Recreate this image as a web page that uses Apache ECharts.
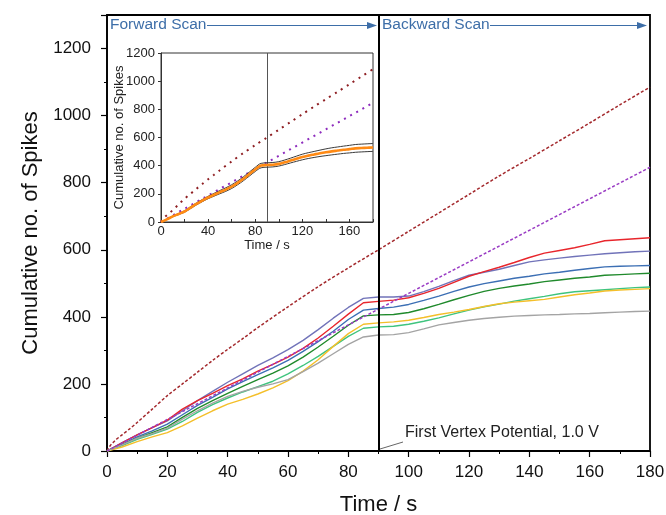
<!DOCTYPE html>
<html>
<head>
<meta charset="utf-8">
<script src="https://cdn.jsdelivr.net/npm/echarts@6/dist/echarts.min.js"></script>
<style>
  html, body { margin: 0; padding: 0; background: #fff; }
  #chart { width: 666px; height: 515px; }
</style>
</head>
<body>
<div id="chart"></div>
<script>
// Time grid (s) shared by the seven recorded electrodes
const time = [0,5,10,15,20,25,30,35,40,45,50,55,60,65,70,75,80,85,90,
              95,100,105,110,115,120,125,130,135,140,145,150,155,160,165,170,175,180];

// Cumulative spike counts, forward scan (0-90 s) then backward scan (95-180 s)
const slate  = [0,25,48,70,90,120,150,178,205,230,255,278,302,330,362,396,428,455,459,
                459,462,475,491,508,524,533,542,553,564,570,575,580,584,588,591,594,596];
const red    = [0,24,48,70,92,125,150,172,195,215,238,258,280,306,337,372,408,442,446,
                450,457,470,485,503,521,535,548,562,577,590,598,606,616,627,630,633,636];
const blue   = [0,20,42,60,80,108,136,160,185,207,228,248,270,297,326,357,392,420,425,
                429,437,449,462,476,489,499,507,515,521,528,533,539,544,549,551,552,553];
const green  = [0,18,38,55,72,100,127,150,172,193,213,232,254,280,310,342,375,403,406,
                407,413,424,437,451,464,476,485,492,498,505,510,515,519,524,526,528,530];
const ltgreen= [0,16,35,50,65,88,115,138,158,176,192,208,230,255,282,312,342,366,370,
                372,378,387,397,409,420,430,438,447,454,461,469,475,478,481,484,487,489];
const gray   = [0,18,38,52,68,95,120,143,163,178,190,200,213,237,262,290,318,340,346,
                347,353,364,376,383,390,395,399,402,404,406,407,409,410,412,414,416,417];
const yellow = [0,12,28,42,55,75,98,120,140,154,170,188,210,238,272,312,350,378,382,
                385,390,398,407,414,422,431,439,444,448,452,459,466,471,477,480,482,484];

// Reference curves (dashed in the main plot, dotted in the inset)
const brownT = [0,1,2,3,5,7.5,10,15,20,25,30,35,40,45,50,60,70,80,90,100,110,120,130,140,150,160,170,180];
const brownV = [0,15,25,34,48,66,85,125,165,200,235,270,303,335,368,430,490,546,600,655,710,765,820,872,925,978,1032,1085];
const purpleT = [0,10,20,30,40,50,60,70,80,90,100,110,120,130,140,150,160,170,180];
const purpleV = [0,47,94,141,188,235,282,329,376,423,470,517,564,611,658,705,752,799,846];

const electrodes = [
  { name: 'E1', data: slate,   color: '#7173b9' },
  { name: 'E2', data: red,     color: '#e8262c' },
  { name: 'E3', data: blue,    color: '#3c6fb4' },
  { name: 'E4', data: green,   color: '#208a2c' },
  { name: 'E5', data: ltgreen, color: '#3fc47e' },
  { name: 'E6', data: yellow,  color: '#f4bf2a' },
  { name: 'E7', data: gray,    color: '#a4a4a4' }
];

const pairs = (xs, ys) => xs.map((x, i) => [x, ys[i]]);

// Mean and standard error across electrodes for the inset
const n = electrodes.length;
const mean = time.map((_, i) => electrodes.reduce((s, e) => s + e.data[i], 0) / n);
const sem = time.map((_, i) => {
  const m = mean[i];
  const v = electrodes.reduce((s, e) => s + (e.data[i] - m) ** 2, 0) / (n - 1);
  return Math.sqrt(v / n);
});
const upper = mean.map((m, i) => m + sem[i]);
const lower = mean.map((m, i) => m - sem[i]);

const FONT = 'Liberation Sans, Arial, sans-serif';
const chart = echarts.init(document.getElementById('chart'), null, { renderer: 'canvas' });

const mainSeries = electrodes.map(e => ({
  name: e.name, type: 'line', xAxisIndex: 0, yAxisIndex: 0,
  data: pairs(time, e.data), showSymbol: false, symbol: 'none',
  lineStyle: { color: e.color, width: 1.4 }, silent: true, z: 3
}));

mainSeries.push({
  name: 'ref1', type: 'line', xAxisIndex: 0, yAxisIndex: 0,
  data: pairs(brownT, brownV), symbol: 'none', smooth: 0.3,
  lineStyle: { color: '#a3282c', width: 1.5, type: [3, 2] }, silent: true, z: 2,
  markLine: {
    silent: true, symbol: 'none', label: { show: false },
    lineStyle: { color: '#000', width: 2, type: 'solid' },
    data: [{ xAxis: 90 }]
  }
});
mainSeries.push({
  name: 'ref2', type: 'line', xAxisIndex: 0, yAxisIndex: 0,
  data: pairs(purpleT, purpleV), symbol: 'none',
  lineStyle: { color: '#9a3cc4', width: 1.5, type: [3, 2] }, silent: true, z: 4
});

const insetSeries = [
  {
    name: 'ref1-in', type: 'line', xAxisIndex: 1, yAxisIndex: 1,
    data: pairs(brownT, brownV), symbol: 'none', smooth: 0.3,
    lineStyle: { color: '#8e1e22', width: 2, type: [2, 5] }, silent: true, z: 6,
    markLine: {
      silent: true, symbol: 'none', label: { show: false },
      lineStyle: { color: '#555', width: 1, type: 'solid' },
      data: [{ xAxis: 90 }]
    }
  },
  {
    name: 'ref2-in', type: 'line', xAxisIndex: 1, yAxisIndex: 1,
    data: pairs(purpleT, purpleV), symbol: 'none',
    lineStyle: { color: '#8d2bbd', width: 2, type: [2, 5] }, silent: true, z: 6
  },
  {
    name: 'upper', type: 'line', xAxisIndex: 1, yAxisIndex: 1,
    data: pairs(time, upper), symbol: 'none', smooth: 0.4,
    lineStyle: { color: '#3a3a3a', width: 1 }, silent: true, z: 6
  },
  {
    name: 'lower', type: 'line', xAxisIndex: 1, yAxisIndex: 1,
    data: pairs(time, lower), symbol: 'none', smooth: 0.4,
    lineStyle: { color: '#3a3a3a', width: 1 }, silent: true, z: 6
  },
  {
    name: 'mean', type: 'line', xAxisIndex: 1, yAxisIndex: 1,
    data: pairs(time, mean), symbol: 'none', smooth: 0.4,
    lineStyle: { color: '#ff8a14', width: 2.6 }, silent: true, z: 7
  }
];

const blueText = '#3d6ea8';
const plain = v => String(v);

chart.setOption({
  animation: false,
  backgroundColor: '#fff',
  grid: [
    { left: 107, top: 15, width: 543, height: 436, outerBoundsMode: 'none', containLabel: false,
      show: true, borderColor: '#000', borderWidth: 1.8, backgroundColor: 'transparent' },
    { left: 161, top: 53, width: 212, height: 169, outerBoundsMode: 'none', containLabel: false,
      show: true, borderColor: '#333', borderWidth: 1, backgroundColor: '#fff', z: 5 }
  ],
  xAxis: [
    {
      gridIndex: 0, type: 'value', min: 0, max: 180, interval: 20,
      axisLine: { onZero: false, lineStyle: { color: '#000', width: 1.5 } },
      axisTick: { inside: false, length: 6, lineStyle: { color: '#000', width: 1.2 } },
      minorTick: { show: true, splitNumber: 2, length: 3, lineStyle: { color: '#000', width: 1 } },
      splitLine: { show: false },
      axisLabel: { fontSize: 17, color: '#111', margin: 13, fontFamily: FONT, formatter: plain },
      name: 'Time / s', nameLocation: 'middle', nameGap: 43,
      nameTextStyle: { fontSize: 22, color: '#111', fontFamily: FONT }
    },
    {
      gridIndex: 1, type: 'value', min: 0, max: 180, interval: 20, z: 6,
      axisLine: { onZero: false, lineStyle: { color: '#333', width: 1 } },
      axisTick: { inside: true, length: 3, lineStyle: { color: '#333', width: 1 } },
      splitLine: { show: false },
      axisLabel: { fontSize: 13, color: '#222', margin: 3, fontFamily: FONT,
                   formatter: v => (v % 40 === 0 ? String(v) : '') },
      name: 'Time / s', nameLocation: 'middle', nameGap: 17,
      nameTextStyle: { fontSize: 13, color: '#222', fontFamily: FONT }
    }
  ],
  yAxis: [
    {
      gridIndex: 0, type: 'value', min: 0, max: 1300, interval: 200,
      axisLine: { onZero: false, lineStyle: { color: '#000', width: 1.5 } },
      axisTick: { inside: false, length: 6, lineStyle: { color: '#000', width: 1.2 } },
      minorTick: { show: true, splitNumber: 2, length: 3, lineStyle: { color: '#000', width: 1 } },
      splitLine: { show: false },
      axisLabel: { fontSize: 17, color: '#111', margin: 16, fontFamily: FONT, showMaxLabel: false, formatter: plain },
      name: 'Cumulative no. of Spikes', nameLocation: 'middle', nameGap: 63,
      nameTextStyle: { fontSize: 22, color: '#111', fontFamily: FONT }
    },
    {
      gridIndex: 1, type: 'value', min: 0, max: 1200, interval: 200, z: 6,
      axisLine: { onZero: false, lineStyle: { color: '#333', width: 1 } },
      axisTick: { inside: false, length: 3, lineStyle: { color: '#333', width: 1 } },
      splitLine: { show: false },
      axisLabel: { fontSize: 13, color: '#222', margin: 6, fontFamily: FONT, formatter: plain },
      name: 'Cumulative no. of Spikes', nameLocation: 'middle', nameGap: 35, nameMoveOverlap: false,
      nameTextStyle: { fontSize: 13, color: '#222', fontFamily: FONT }
    }
  ],
  series: mainSeries.concat(insetSeries),
  graphic: [
    { type: 'text', x: 110, y: 25, z: 10, style: { text: 'Forward Scan', fill: blueText, font: '15.5px ' + FONT, verticalAlign: 'middle' } },
    { type: 'line', z: 10, shape: { x1: 207, y1: 25.5, x2: 370, y2: 25.5 }, style: { stroke: blueText, lineWidth: 1 } },
    { type: 'polygon', z: 10, shape: { points: [[367, 22], [377, 25.5], [367, 29]] }, style: { fill: blueText } },
    { type: 'text', x: 382, y: 25, z: 10, style: { text: 'Backward Scan', fill: blueText, font: '15.5px ' + FONT, verticalAlign: 'middle' } },
    { type: 'line', z: 10, shape: { x1: 490, y1: 25.5, x2: 640, y2: 25.5 }, style: { stroke: blueText, lineWidth: 1 } },
    { type: 'polygon', z: 10, shape: { points: [[637, 22], [647, 25.5], [637, 29]] }, style: { fill: blueText } },
    { type: 'text', x: 405, y: 433, z: 10, style: { text: 'First Vertex Potential, 1.0 V', fill: '#222', font: '16px ' + FONT, verticalAlign: 'middle' } },
    { type: 'line', z: 10, shape: { x1: 380, y1: 449, x2: 403, y2: 442 }, style: { stroke: '#666', lineWidth: 1 } }
  ]
});
</script>
</body>
</html>
